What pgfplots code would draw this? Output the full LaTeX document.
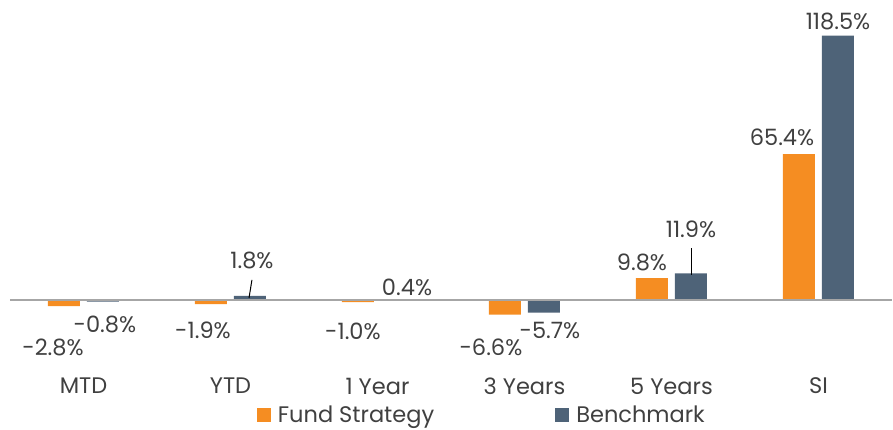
\documentclass[border=0pt]{standalone}
\usepackage{pgfplots}
\pgfplotsset{compat=1.18}
\usepackage{fontspec}
\setmainfont{Poppins}
\definecolor{fund}{RGB}{245,141,34}
\definecolor{bench}{RGB}{78,99,120}
\definecolor{txt}{RGB}{64,64,64}
\definecolor{basec}{RGB}{166,166,166}
\begin{document}
\begin{tikzpicture}[font=\fontsize{22.5}{27}\selectfont, every node/.append style={text=txt}]
\begin{axis}[
  scale only axis, width=882pt, height=323.35pt,
  xmin=-0.5, xmax=5.5, ymin=-20, ymax=125,
  ybar=7pt, bar width=32pt,
  axis line style={draw=none},
  ytick=\empty, xtick={0,1,2,3,4,5},
  xticklabels={MTD,YTD,1 Year,3 Years,5 Years,SI},
  major tick length=0pt,
  xticklabel style={yshift=-30pt},
  clip=false,
  legend style={at={(axis description cs:0.535,-0.217)}, anchor=center, draw=none, fill=none,
    legend columns=2, /tikz/every even column/.append style={column sep=119pt}},
  legend image code/.code={\fill[#1] (0pt,-7pt) rectangle (14pt,7pt); \path (19pt,0pt);},
]
\addplot[fill=fund, draw=none] coordinates {(0,-2.8) (1,-1.9) (2,-1.0) (3,-6.6) (4,9.8) (5,65.4)};
\addlegendentry{Fund Strategy}
\addplot[fill=bench, draw=none] coordinates {(0,-0.8) (1,1.8) (2,0.4) (3,-5.7) (4,11.9) (5,118.5)};
\addlegendentry{Benchmark}
\draw[basec, line width=1.5pt] (axis cs:-0.5,0) -- (axis cs:5.5,0);
\node at (axis cs:-0.207,-21.5) {-2.8\%};
\node at (axis cs:0.146,-11.2) {-0.8\%};
\node at (axis cs:0.813,-13.5) {-1.9\%};
\node at (axis cs:1.146,17.5) {1.8\%};
\draw[black, line width=1pt] (axis cs:1.126,0.9) -- (axis cs:1.146,9.0);
\node at (axis cs:1.833,-14.3) {-1.0\%};
\node at (axis cs:2.201,5.8) {0.4\%};
\node at (axis cs:2.772,-21.1) {-6.6\%};
\node at (axis cs:3.173,-13.5) {-5.7\%};
\node at (axis cs:3.799,17.0) {9.8\%};
\node at (axis cs:4.133,31.8) {11.9\%};
\draw[black, line width=1pt] (axis cs:4.139,11.2) -- (axis cs:4.139,23.3);
\node at (axis cs:4.752,73.1) {65.4\%};
\node at (axis cs:5.133,124.7) {118.5\%};
\coordinate (tl) at (axis cs:-0.568,134.5);
\coordinate (br) at (axis cs:5.507,-58.3);
\end{axis}
\pgfresetboundingbox
\path[use as bounding box] (tl) rectangle (br);
\end{tikzpicture}
\end{document}
